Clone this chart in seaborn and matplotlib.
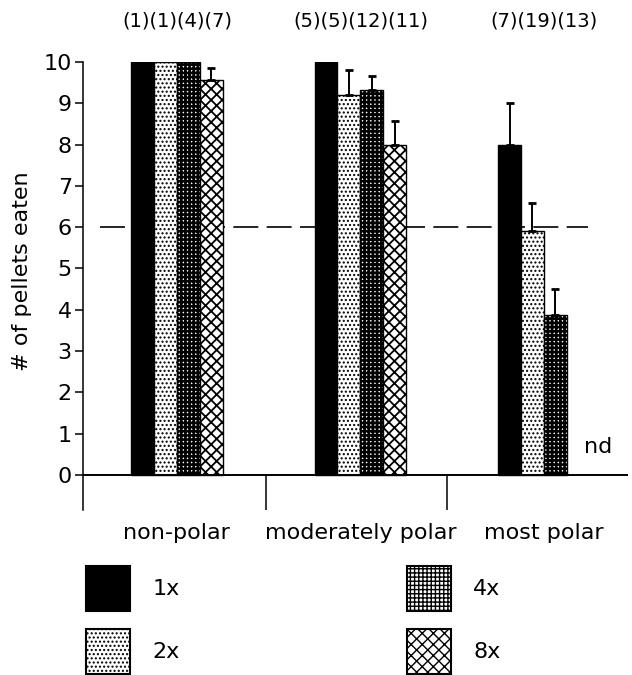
import matplotlib
matplotlib.use("Agg")
import matplotlib.pyplot as plt
from matplotlib.patches import Patch
import numpy as np
import pandas as pd
import seaborn as sns

polarity = ["non-polar", "moderately polar", "most polar"]
doses = ["1x", "2x", "4x", "8x"]

pellets_1x = [10.0, 10.0, 8.0]
pellets_2x = [10.0, 9.2, 5.9]
pellets_4x = [10.0, 9.33, 3.87]
pellets_8x = [9.57, 8.0, np.nan]

err_1x = [0.0, 0.0, 1.0]
err_2x = [0.0, 0.6, 0.68]
err_4x = [0.0, 0.32, 0.63]
err_8x = [0.29, 0.57, np.nan]

n_1x = [1, 5, 7]
n_2x = [1, 5, 19]
n_4x = [4, 12, 13]
n_8x = [7, 11, None]

criterion = 6
hatches = ["", "....", "++++", "xxx"]
hatch_lw = [1.0, 1.0, 1.9, 1.3]
faces = ["black", "white", "white", "white"]

sns.set_style("ticks")
plt.rcParams["font.family"] = ["DejaVu Sans"]
plt.rcParams["text.color"] = "black"
plt.rcParams["axes.labelcolor"] = "black"
plt.rcParams["xtick.color"] = "black"
plt.rcParams["ytick.color"] = "black"
plt.rcParams["axes.edgecolor"] = "black"

rows = []
for dose, vals in zip(doses, [pellets_1x, pellets_2x, pellets_4x, pellets_8x]):
    for pol, v in zip(polarity, vals):
        rows.append({"polarity": pol, "dose": dose, "pellets": v})
df = pd.DataFrame(rows)
errs = {"1x": err_1x, "2x": err_2x, "4x": err_4x, "8x": err_8x}

fig = plt.figure(figsize=(6.32, 6.75), dpi=100)
ax = fig.add_axes([0.1313, 0.2444, 0.8623, 0.6637])

sns.barplot(data=df, x="polarity", y="pellets", hue="dose", order=polarity,
            hue_order=doses, palette=faces, width=0.5, errorbar=None,
            edgecolor="black", linewidth=1.0, legend=False, ax=ax, zorder=3)

# hatches + upper error bars
bar_conts = list(ax.containers)
for i, cont in enumerate(bar_conts):
    dose = doses[i]
    for bar in cont:
        h = bar.get_height()
        if not np.isfinite(h):
            continue
        bar.set_hatch(hatches[i])
        if hasattr(bar, "set_hatch_linewidth"):
            bar.set_hatch_linewidth(hatch_lw[i])
        xc = bar.get_x() + bar.get_width() / 2
        cat = int(round(xc))
        e = errs[dose][cat]
        if e and np.isfinite(e):
            ax.errorbar(xc, h, yerr=[[0], [e]], fmt="none", ecolor="black",
                        elinewidth=1.4, capsize=3, capthick=2, zorder=4,
                        clip_on=False)

# criterion line
ax.hlines(criterion, -0.42, 2.24, colors="black", linewidth=1.2,
          linestyles=(0, (15, 5)), zorder=1)

# baseline and category separators
ax.axhline(0, color="black", linewidth=1.4, zorder=5)
ax.vlines([0.485, 1.47], -0.85, 0, colors="black", linewidth=1.1)

# group sizes above bars
for k, ns in enumerate(zip(n_1x, n_2x, n_4x, n_8x)):
    lab = "".join(f"({n})" for n in ns if n is not None)
    ax.text(k, 11.0, lab, ha="center", va="center", fontsize=14,
            clip_on=False)

ax.text(2.22, 0.68, "nd", ha="left", va="center", fontsize=16)

ax.set_xlim(-0.512, 2.458)
ax.set_ylim(-0.85, 10)
ax.set_yticks(range(0, 11))
ax.set_xticks(range(len(polarity)))
ax.set_xticklabels(polarity, fontsize=16)
ax.tick_params(axis="x", length=0, pad=9)
ax.tick_params(axis="y", length=6, width=1.1, labelsize=16, pad=2)
ax.set_xlabel("")
ax.set_ylabel("# of pellets eaten", fontsize=16)
ax.yaxis.set_label_coords(-0.094, 0.533)
for s in ["top", "right", "bottom"]:
    ax.spines[s].set_visible(False)
ax.spines["left"].set_linewidth(1.1)

handles = []
for i, dose in enumerate(doses):
    p = Patch(facecolor=faces[i], edgecolor="black", hatch=hatches[i],
              linewidth=1.5, label=dose)
    if hasattr(p, "set_hatch_linewidth"):
        p.set_hatch_linewidth(hatch_lw[i])
    handles.append(p)
fig.legend(handles=handles, labels=doses, ncol=2, loc="upper left",
           bbox_to_anchor=(0.136, 1 - 566 / 675), frameon=False,
           fontsize=16, handlelength=2.0, handleheight=2.75,
           handletextpad=1.0, labelspacing=0.8, columnspacing=10.2,
           borderpad=0, borderaxespad=0)

fig.savefig("out.png", dpi=100, facecolor="white")
